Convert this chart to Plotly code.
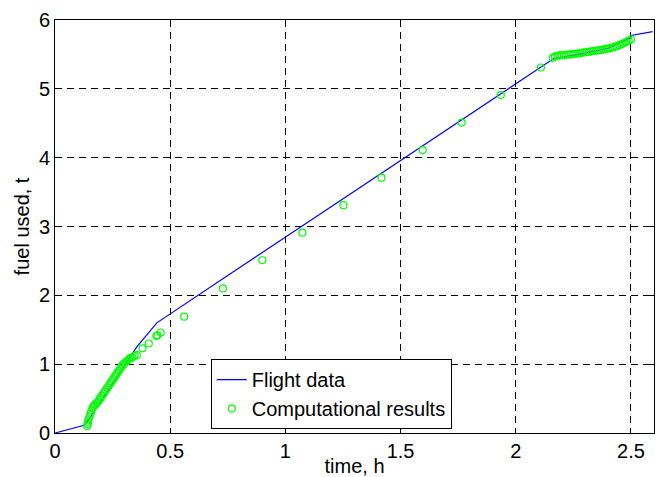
import plotly.graph_objects as go

# Flight data (line)
flight_time = [0.0, 0.13, 0.355, 0.442, 0.8, 1.2, 1.6, 2.0, 2.165, 2.3, 2.4, 2.5, 2.5, 2.594]
flight_fuel = [0.0, 0.116, 1.25, 1.60, 2.40, 3.29, 4.18, 5.07, 5.44, 5.52, 5.59, 5.74, 5.775, 5.83]

# Computational results (circles)
comp_time = [0.140, 0.141, 0.143, 0.146, 0.150, 0.154, 0.158, 0.163, 0.168, 0.174,
             0.180, 0.186, 0.192, 0.198, 0.204, 0.210, 0.216, 0.222, 0.228, 0.234,
             0.240, 0.246, 0.252, 0.258, 0.264, 0.270, 0.276, 0.282, 0.288, 0.294,
             0.300, 0.307, 0.314, 0.321, 0.328, 0.336, 0.345, 0.355,
             0.380, 0.407, 0.440, 0.445, 0.459, 0.561, 0.729, 0.900, 1.074, 1.252,
             1.417, 1.596, 1.765, 1.935, 2.109,
             2.160, 2.170, 2.180, 2.190, 2.200, 2.210, 2.220, 2.230, 2.240, 2.250,
             2.260, 2.270, 2.280, 2.290, 2.300, 2.310, 2.320, 2.330, 2.340, 2.350,
             2.360, 2.370, 2.380, 2.390, 2.400, 2.410, 2.420, 2.430, 2.440, 2.450,
             2.460, 2.470, 2.480, 2.490, 2.500]
comp_fuel = [0.10, 0.13, 0.16, 0.20, 0.24, 0.28, 0.32, 0.36, 0.39, 0.41,
             0.43, 0.45, 0.48, 0.51, 0.54, 0.57, 0.60, 0.63, 0.66, 0.69,
             0.72, 0.75, 0.78, 0.81, 0.84, 0.87, 0.90, 0.93, 0.96, 0.99,
             1.01, 1.03, 1.05, 1.07, 1.09, 1.10, 1.12, 1.13,
             1.23, 1.30, 1.41, 1.42, 1.46, 1.69, 2.10, 2.51, 2.91, 3.31,
             3.71, 4.11, 4.51, 4.91, 5.31,
             5.45, 5.47, 5.48, 5.485, 5.49, 5.49, 5.495, 5.50, 5.50, 5.505,
             5.51, 5.515, 5.52, 5.525, 5.53, 5.535, 5.54, 5.545, 5.55, 5.555,
             5.56, 5.565, 5.57, 5.58, 5.585, 5.59, 5.60, 5.61, 5.62, 5.635,
             5.65, 5.665, 5.68, 5.70, 5.72]

x_ticks = [0, 0.5, 1, 1.5, 2, 2.5]
x_tick_labels = ["0", "0.5", "1", "1.5", "2", "2.5"]
y_ticks = [0, 1, 2, 3, 4, 5, 6]
y_tick_labels = ["0", "1", "2", "3", "4", "5", "6"]

FONT = "Liberation Sans, Arial, sans-serif"
FS = 20

fig = go.Figure()
fig.add_trace(go.Scatter(
    x=flight_time, y=flight_fuel, mode="lines", name="Flight data",
    line=dict(color="#0000ff", width=1.2),
))
fig.add_trace(go.Scatter(
    x=comp_time, y=comp_fuel, mode="markers", name="Computational results",
    marker=dict(symbol="circle-open", color="#00ff00", size=7, line=dict(width=1.2, color="#00ff00")),
))

axis_common = dict(
    showline=True, linecolor="black", linewidth=1, mirror="ticks",
    ticks="inside", ticklen=5, tickcolor="black", tickwidth=1,
    showgrid=True, gridcolor="black", gridwidth=1, griddash="7px,5px",
    zeroline=False, tickfont=dict(family=FONT, size=FS, color="black"),
    automargin=False,
)

fig.update_xaxes(
    range=[0, 2.6], tickvals=x_ticks, ticktext=x_tick_labels,
    title=dict(text="time, h", font=dict(family=FONT, size=FS, color="black"), standoff=2),
    **axis_common,
)
fig.update_yaxes(
    range=[0, 6], tickvals=y_ticks, ticktext=y_tick_labels,
    title=dict(text="fuel used, t", font=dict(family=FONT, size=FS, color="black"), standoff=3),
    **axis_common,
)

fig.update_layout(
    width=657, height=477,
    margin=dict(l=55, r=3, t=20, b=44),
    paper_bgcolor="white", plot_bgcolor="white",
    font=dict(family=FONT, size=FS, color="black"),
    legend=dict(
        x=0.26, y=0.179, xanchor="left", yanchor="top",
        bgcolor="white", bordercolor="black", borderwidth=1,
        font=dict(family=FONT, size=FS, color="black"),
        tracegroupgap=0,
    ),
    showlegend=True,
)

fig.write_html(
    "out.html",
    config={"displayModeBar": False},
    post_script="document.body.style.margin='0px';document.body.style.overflow='hidden';",
)
